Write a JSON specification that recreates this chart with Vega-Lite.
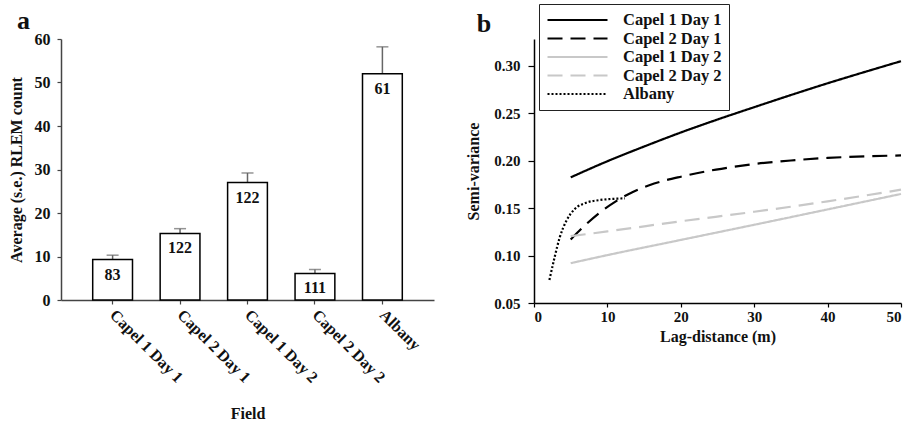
{
  "$schema": "https://vega.github.io/schema/vega-lite/v6.json",
  "padding": {"left": 8, "top": 3, "right": 5, "bottom": 0},
  "background": "white",
  "spacing": 31,
  "resolve": {"legend": {"color": "independent", "strokeDash": "independent"}},
  "config": {
    "font": "Liberation Serif",
    "view": {"stroke": null},
    "axis": {
      "grid": false,
      "labelFont": "Liberation Serif",
      "labelFontWeight": "bold",
      "labelFontSize": 15,
      "labelColor": "#111",
      "titleFont": "Liberation Serif",
      "titleFontWeight": "bold",
      "titleFontSize": 16,
      "titleColor": "#111",
      "domainWidth": 1.5,
      "tickWidth": 1.2
    },
    "legend": {"labelFont": "Liberation Serif", "labelFontWeight": "bold"},
    "title": {"font": "Liberation Serif", "fontWeight": "bold", "fontSize": 26, "anchor": "start", "color": "#111"}
  },
  "hconcat": [
    {
      "width": 373,
      "height": 261,
      "title": {"text": "a", "dx": 9, "offset": 4, "dy": 7},
      "data": {"values": [
        {"field": "Capel 1 Day 1", "mean": 9.3, "upper": 10.3, "n": "83"},
        {"field": "Capel 2 Day 1", "mean": 15.3, "upper": 16.4, "n": "122"},
        {"field": "Capel 1 Day 2", "mean": 27.0, "upper": 29.2, "n": "122"},
        {"field": "Capel 2 Day 2", "mean": 6.1, "upper": 7.0, "n": "111"},
        {"field": "Albany", "mean": 52.0, "upper": 58.2, "n": "61"}
      ]},
      "encoding": {
        "x": {
          "field": "field", "type": "nominal", "sort": null,
          "scale": {"paddingInner": 0.41, "paddingOuter": 0.47},
          "axis": {"title": "Field", "labelAngle": 45, "labelAlign": "left", "labelBaseline": "middle", "labelPadding": 8, "tickSize": 4, "domainColor": "#444", "tickColor": "#444", "titlePadding": 20, "labelFontSize": 16}
        }
      },
      "layer": [
        {
          "mark": {"type": "rule", "color": "#666", "strokeWidth": 1.5},
          "encoding": {
            "y": {"field": "mean", "type": "quantitative"},
            "y2": {"field": "upper"}
          }
        },
        {
          "mark": {"type": "tick", "color": "#666", "thickness": 1.5, "size": 12},
          "encoding": {
            "y": {"field": "upper", "type": "quantitative"}
          }
        },
        {
          "mark": {"type": "bar", "fill": "white", "stroke": "black", "strokeWidth": 1.5},
          "encoding": {
            "y": {
              "field": "mean", "type": "quantitative",
              "scale": {"domain": [0, 60], "nice": false},
              "axis": {"title": "Average (s.e.) RLEM count", "values": [0, 10, 20, 30, 40, 50, 60], "tickSize": 4, "labelPadding": 7, "titlePadding": 10, "domainColor": "#444", "tickColor": "#444", "labelFontSize": 16}
            }
          }
        },
        {
          "mark": {"type": "text", "dy": 15, "fontSize": 16, "fontWeight": "bold", "font": "Liberation Serif", "baseline": "middle", "color": "#111"},
          "encoding": {
            "y": {"field": "mean", "type": "quantitative"},
            "text": {"field": "n", "type": "nominal"}
          }
        }
      ]
    },
    {
      "width": 367,
      "height": 264,
      "title": {"text": "b", "dx": 11, "offset": 4, "dy": 37},
      "data": {"values": [
        {"series": "Capel 1 Day 1", "lag": 5, "sv": 0.1825},
        {"series": "Capel 1 Day 1", "lag": 10, "sv": 0.1995},
        {"series": "Capel 1 Day 1", "lag": 15, "sv": 0.215},
        {"series": "Capel 1 Day 1", "lag": 20, "sv": 0.2298},
        {"series": "Capel 1 Day 1", "lag": 25, "sv": 0.2435},
        {"series": "Capel 1 Day 1", "lag": 30, "sv": 0.2565},
        {"series": "Capel 1 Day 1", "lag": 35, "sv": 0.2693},
        {"series": "Capel 1 Day 1", "lag": 40, "sv": 0.2817},
        {"series": "Capel 1 Day 1", "lag": 45, "sv": 0.2935},
        {"series": "Capel 1 Day 1", "lag": 50, "sv": 0.305},
        {"series": "Capel 2 Day 1", "lag": 5, "sv": 0.117},
        {"series": "Capel 2 Day 1", "lag": 6.6, "sv": 0.1294},
        {"series": "Capel 2 Day 1", "lag": 8.9, "sv": 0.145},
        {"series": "Capel 2 Day 1", "lag": 11.2, "sv": 0.1575},
        {"series": "Capel 2 Day 1", "lag": 13.4, "sv": 0.1669},
        {"series": "Capel 2 Day 1", "lag": 15.7, "sv": 0.1742},
        {"series": "Capel 2 Day 1", "lag": 20.3, "sv": 0.1837},
        {"series": "Capel 2 Day 1", "lag": 24.8, "sv": 0.1907},
        {"series": "Capel 2 Day 1", "lag": 30, "sv": 0.1965},
        {"series": "Capel 2 Day 1", "lag": 35, "sv": 0.2003},
        {"series": "Capel 2 Day 1", "lag": 40, "sv": 0.203},
        {"series": "Capel 2 Day 1", "lag": 45, "sv": 0.2046},
        {"series": "Capel 2 Day 1", "lag": 50, "sv": 0.2056},
        {"series": "Capel 1 Day 2", "lag": 5, "sv": 0.092},
        {"series": "Capel 1 Day 2", "lag": 10, "sv": 0.1005},
        {"series": "Capel 1 Day 2", "lag": 20, "sv": 0.1165},
        {"series": "Capel 1 Day 2", "lag": 30, "sv": 0.1325},
        {"series": "Capel 1 Day 2", "lag": 40, "sv": 0.1487},
        {"series": "Capel 1 Day 2", "lag": 50, "sv": 0.165},
        {"series": "Capel 2 Day 2", "lag": 5, "sv": 0.1205},
        {"series": "Capel 2 Day 2", "lag": 10, "sv": 0.1255},
        {"series": "Capel 2 Day 2", "lag": 20, "sv": 0.1362},
        {"series": "Capel 2 Day 2", "lag": 30, "sv": 0.1462},
        {"series": "Capel 2 Day 2", "lag": 40, "sv": 0.1572},
        {"series": "Capel 2 Day 2", "lag": 50, "sv": 0.1695},
        {"series": "Albany", "lag": 2.1, "sv": 0.0742},
        {"series": "Albany", "lag": 2.8, "sv": 0.098},
        {"series": "Albany", "lag": 3.5, "sv": 0.119},
        {"series": "Albany", "lag": 4.4, "sv": 0.1365},
        {"series": "Albany", "lag": 5.5, "sv": 0.1487},
        {"series": "Albany", "lag": 7.1, "sv": 0.1557},
        {"series": "Albany", "lag": 8.9, "sv": 0.1585},
        {"series": "Albany", "lag": 11.2, "sv": 0.16},
        {"series": "Albany", "lag": 12.4, "sv": 0.1603}
      ]},
      "mark": {"type": "line", "strokeWidth": 2.2, "interpolate": "monotone"},
      "encoding": {
        "x": {
          "field": "lag", "type": "quantitative",
          "scale": {"domain": [0, 50], "nice": false},
          "axis": {"title": "Lag-distance (m)", "values": [0, 10, 20, 30, 40, 50], "tickSize": 4, "labelPadding": 2, "titlePadding": 4, "domainColor": "#000", "tickColor": "#000"}
        },
        "y": {
          "field": "sv", "type": "quantitative",
          "scale": {"domain": [0.05, 0.3284], "nice": false, "zero": false},
          "axis": {"title": "Semi-variance", "values": [0.05, 0.1, 0.15, 0.2, 0.25, 0.3], "format": ".2f", "tickSize": 6, "labelPadding": 8, "titlePadding": 12, "domainColor": "#000", "tickColor": "#000"}
        },
        "color": {
          "field": "series", "type": "nominal",
          "scale": {"domain": ["Capel 1 Day 1", "Capel 2 Day 1", "Capel 1 Day 2", "Capel 2 Day 2", "Albany"], "range": ["#000000", "#000000", "#c8c8c8", "#c8c8c8", "#000000"]},
          "legend": {"title": null, "orient": "none", "legendX": 5, "legendY": -35, "strokeColor": "#222", "padding": 7, "symbolType": "M-1,0H7", "symbolSize": 225, "symbolStrokeWidth": 2.2, "labelFontSize": 16.5, "labelOffset": 59, "labelColor": "#111", "rowPadding": 0.5}
        },
        "strokeDash": {
          "field": "series", "type": "nominal",
          "scale": {"domain": ["Capel 1 Day 1", "Capel 2 Day 1", "Capel 1 Day 2", "Capel 2 Day 2", "Albany"], "range": [[1, 0], [15, 8], [1, 0], [15, 8], [2, 2]]},
          "legend": {"title": null, "orient": "none", "legendX": 5, "legendY": -35, "strokeColor": "#222", "padding": 7, "symbolType": "M-1,0H7", "symbolSize": 225, "symbolStrokeWidth": 2.2, "labelFontSize": 16.5, "labelOffset": 59, "labelColor": "#111", "rowPadding": 0.5}
        }
      }
    }
  ]
}
